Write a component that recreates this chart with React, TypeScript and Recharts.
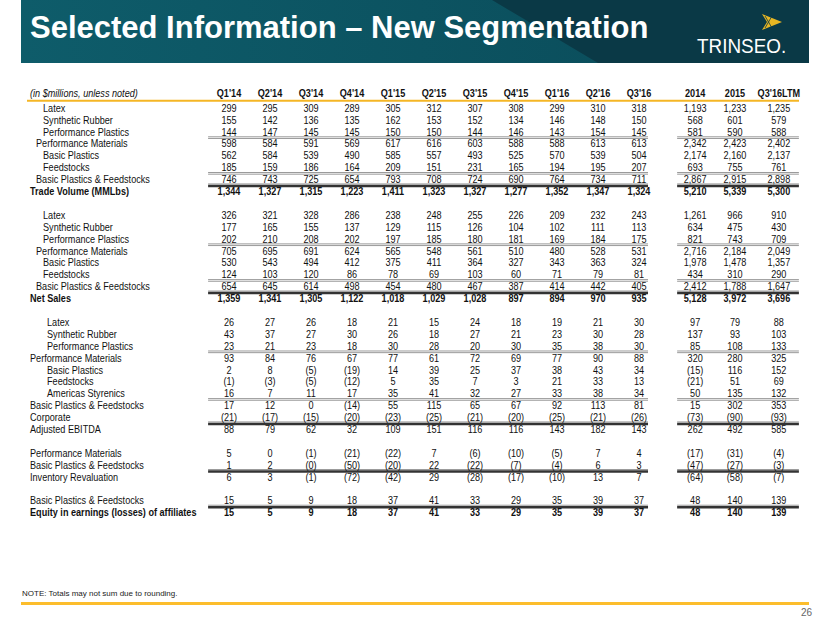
import { ScatterChart, Scatter, XAxis, YAxis, ReferenceLine } from "recharts";

// column headings
const periods = ["Q1'14", "Q2'14", "Q3'14", "Q4'14", "Q1'15", "Q2'15", "Q3'15", "Q4'15", "Q1'16", "Q2'16", "Q3'16", "2014", "2015", "Q3'16LTM"];

// trade volume (MMLbs)
const volLatex = [299, 295, 309, 289, 305, 312, 307, 308, 299, 310, 318, 1193, 1233, 1235];
const volRubber = [155, 142, 136, 135, 162, 153, 152, 134, 146, 148, 150, 568, 601, 579];
const volPlastics = [144, 147, 145, 145, 150, 150, 144, 146, 143, 154, 145, 581, 590, 588];
const volMaterials = [598, 584, 591, 569, 617, 616, 603, 588, 588, 613, 613, 2342, 2423, 2402];
const volBasic = [562, 584, 539, 490, 585, 557, 493, 525, 570, 539, 504, 2174, 2160, 2137];
const volFeed = [185, 159, 186, 164, 209, 151, 231, 165, 194, 195, 207, 693, 755, 761];
const volBasicFeed = [746, 743, 725, 654, 793, 708, 724, 690, 764, 734, 711, 2867, 2915, 2898];
const volTotal = [1344, 1327, 1315, 1223, 1411, 1323, 1327, 1277, 1352, 1347, 1324, 5210, 5339, 5300];

// net sales
const salesLatex = [326, 321, 328, 286, 238, 248, 255, 226, 209, 232, 243, 1261, 966, 910];
const salesRubber = [177, 165, 155, 137, 129, 115, 126, 104, 102, 111, 113, 634, 475, 430];
const salesPlastics = [202, 210, 208, 202, 197, 185, 180, 181, 169, 184, 175, 821, 743, 709];
const salesMaterials = [705, 695, 691, 624, 565, 548, 561, 510, 480, 528, 531, 2716, 2184, 2049];
const salesBasic = [530, 543, 494, 412, 375, 411, 364, 327, 343, 363, 324, 1978, 1478, 1357];
const salesFeed = [124, 103, 120, 86, 78, 69, 103, 60, 71, 79, 81, 434, 310, 290];
const salesBasicFeed = [654, 645, 614, 498, 454, 480, 467, 387, 414, 442, 405, 2412, 1788, 1647];
const salesTotal = [1359, 1341, 1305, 1122, 1018, 1029, 1028, 897, 894, 970, 935, 5128, 3972, 3696];

// adjusted EBITDA
const ebLatex = [26, 27, 26, 18, 21, 15, 24, 18, 19, 21, 30, 97, 79, 88];
const ebRubber = [43, 37, 27, 30, 26, 18, 27, 21, 23, 30, 28, 137, 93, 103];
const ebPlastics = [23, 21, 23, 18, 30, 28, 20, 30, 35, 38, 30, 85, 108, 133];
const ebMaterials = [93, 84, 76, 67, 77, 61, 72, 69, 77, 90, 88, 320, 280, 325];
const ebBasic = [2, 8, -5, -19, 14, 39, 25, 37, 38, 43, 34, -15, 116, 152];
const ebFeed = [-1, -3, -5, -12, 5, 35, 7, 3, 21, 33, 13, -21, 51, 69];
const ebStyrenics = [16, 7, 11, 17, 35, 41, 32, 27, 33, 38, 34, 50, 135, 132];
const ebBasicFeed = [17, 12, 0, -14, 55, 115, 65, 67, 92, 113, 81, 15, 302, 353];
const ebCorporate = [-21, -17, -15, -20, -23, -25, -21, -20, -25, -21, -26, -73, -90, -93];
const ebTotal = [88, 79, 62, 32, 109, 151, 116, 116, 143, 182, 143, 262, 492, 585];

// inventory revaluation
const invMaterials = [5, 0, -1, -21, -22, 7, -6, -10, -5, 7, 4, -17, -31, -4];
const invBasicFeed = [1, 2, -0, -50, -20, 22, -22, -7, -4, 6, 3, -47, -27, -3];
const invTotal = [6, 3, -1, -72, -42, 29, -28, -17, -10, 13, 7, -64, -58, -7];

// equity affiliates
const eqBasicFeed = [15, 5, 9, 18, 37, 41, 33, 29, 35, 39, 37, 48, 140, 139];
const eqTotal = [15, 5, 9, 18, 37, 41, 33, 29, 35, 39, 37, 48, 140, 139];

type Row = { label: string; values?: number[]; indent?: number; bold?: boolean };

const rows: Row[] = [
  { label: "Latex", values: volLatex, indent: 2 },
  { label: "Synthetic Rubber", values: volRubber, indent: 2 },
  { label: "Performance Plastics", values: volPlastics, indent: 2 },
  { label: "Performance Materials", values: volMaterials, indent: 1 },
  { label: "Basic Plastics", values: volBasic, indent: 2 },
  { label: "Feedstocks", values: volFeed, indent: 2 },
  { label: "Basic Plastics & Feedstocks", values: volBasicFeed, indent: 1 },
  { label: "Trade Volume (MMLbs)", values: volTotal, indent: 0, bold: true },
  { label: "" },
  { label: "Latex", values: salesLatex, indent: 2 },
  { label: "Synthetic Rubber", values: salesRubber, indent: 2 },
  { label: "Performance Plastics", values: salesPlastics, indent: 2 },
  { label: "Performance Materials", values: salesMaterials, indent: 1 },
  { label: "Basic Plastics", values: salesBasic, indent: 2 },
  { label: "Feedstocks", values: salesFeed, indent: 2 },
  { label: "Basic Plastics & Feedstocks", values: salesBasicFeed, indent: 1 },
  { label: "Net Sales", values: salesTotal, indent: 0, bold: true },
  { label: "" },
  { label: "Latex", values: ebLatex, indent: 3 },
  { label: "Synthetic Rubber", values: ebRubber, indent: 3 },
  { label: "Performance Plastics", values: ebPlastics, indent: 3 },
  { label: "Performance Materials", values: ebMaterials, indent: 0 },
  { label: "Basic Plastics", values: ebBasic, indent: 3 },
  { label: "Feedstocks", values: ebFeed, indent: 3 },
  { label: "Americas Styrenics", values: ebStyrenics, indent: 3 },
  { label: "Basic Plastics & Feedstocks", values: ebBasicFeed, indent: 0 },
  { label: "Corporate", values: ebCorporate, indent: 0 },
  { label: "Adjusted EBITDA", values: ebTotal, indent: 0 },
  { label: "" },
  { label: "Performance Materials", values: invMaterials, indent: 0 },
  { label: "Basic Plastics & Feedstocks", values: invBasicFeed, indent: 0 },
  { label: "Inventory Revaluation", values: invTotal, indent: 0 },
  { label: "" },
  { label: "Basic Plastics & Feedstocks", values: eqBasicFeed, indent: 0 },
  { label: "Equity in earnings (losses) of affiliates", values: eqTotal, indent: 0, bold: true },
];

// rules drawn above these rows
const thinRules = [3, 6, 12, 15, 21, 25];
const thickRules = [7, 16, 27, 31, 34];

const W = 830;
const H = 623;
const X0 = 229; // first quarter column centre, px
const DX = 41; // column pitch, px
const Y0 = 108; // first body row centre, px
const DY = 11.9; // row pitch, px

const colX = [0, 1, 2, 3, 4, 5, 6, 7, 8, 9, 10, 11.37, 12.34, 13.41];
const indentX = [30, 36, 43, 47].map((px) => (px - X0) / DX);

const FONT = '"Liberation Sans", Arial, sans-serif';
const SQUEEZE = 0.86; // stand-in for Arial Narrow

function fmt(v: number) {
  const neg = v < 0 || Object.is(v, -0);
  const s = Math.abs(v).toLocaleString("en-US");
  return neg ? `(${s})` : s;
}

type Cell = { x: number; y: number; text: string; bold?: boolean; italic?: boolean; anchor: string };

const cells: Cell[] = [];
cells.push({ x: indentX[0], y: -1.2, text: "(in $millions, unless noted)", italic: true, anchor: "start" });
periods.forEach((p, i) => cells.push({ x: colX[i], y: -1.2, text: p, bold: true, anchor: "middle" }));
rows.forEach((r, k) => {
  if (!r.values) return;
  cells.push({ x: indentX[r.indent ?? 0], y: k, text: r.label, bold: r.bold, anchor: "start" });
  r.values.forEach((v, i) => cells.push({ x: colX[i], y: k, text: fmt(v), bold: r.bold, anchor: "middle" }));
});

function renderCell(props: any) {
  const { cx, cy, payload } = props;
  return (
    <text
      transform={`translate(${cx} ${cy}) scale(${SQUEEZE} 1)`}
      x={0}
      y={0}
      textAnchor={payload.anchor}
      dominantBaseline="central"
      fontFamily={FONT}
      fontSize={10.6}
      fontWeight={payload.bold ? 700 : 400}
      fontStyle={payload.italic ? "italic" : "normal"}
      fill="#111"
    >
      {payload.text}
    </text>
  );
}

const quarterSpan = [-0.51, 10.22];
const yearSpan = [10.93, 13.9];

function rule(k: number, dy: number, stroke: string, width: number, key: string) {
  return [quarterSpan, yearSpan].map(([a, b], j) => (
    <ReferenceLine
      key={`${key}-${j}`}
      segment={[{ x: a, y: k + dy }, { x: b, y: k + dy }]}
      stroke={stroke}
      strokeWidth={width}
      ifOverflow="visible"
    />
  ));
}

function Header() {
  return (
    <svg width={W} height={70} style={{ position: "absolute", left: 0, top: 0 }}>
      <defs>
        <linearGradient id="bandL" x1="0" x2="1" y1="0" y2="0">
          <stop offset="0" stopColor="#0e5c6a" />
          <stop offset="1" stopColor="#0b4f5d" />
        </linearGradient>
      </defs>
      <rect x={21} y={0} width={788} height={63} fill="#0a3946" />
      <polygon points="21,0 492,0 598,63 21,63" fill="url(#bandL)" />
      <text x={30} y={38} fill="#fff" fontFamily={FONT} fontWeight={700} fontSize={31}>
        Selected Information – New Segmentation
      </text>
      <polygon points="762,14 782,22 762,30 767,22" fill="#e7b623" />
      <line x1={765} y1={16} x2={772} y2={28} stroke="#0a3946" strokeWidth={0.8} />
      <line x1={765} y1={28} x2={772} y2={16} stroke="#0a3946" strokeWidth={0.8} />
      <text transform="translate(697 53) scale(0.9 1)" fill="#fff" fontFamily={FONT} fontSize={21}>
        TRINSEO.
      </text>
    </svg>
  );
}

export default function App() {
  return (
    <div style={{ position: "absolute", left: 0, top: 0, width: W, height: H, background: "#fff", overflow: "hidden" }}>
      <Header />
      <div style={{ position: "absolute", left: 0, top: 0 }}>
        <ScatterChart width={W} height={H} margin={{ top: 0, right: 0, bottom: 0, left: 0 }}>
          <XAxis type="number" dataKey="x" hide domain={[-X0 / DX, (W - X0) / DX]} allowDataOverflow />
          <YAxis type="number" dataKey="y" hide reversed domain={[-Y0 / DY, (H - Y0) / DY]} allowDataOverflow />
          <ReferenceLine
            segment={[{ x: (27 - X0) / DX, y: -0.6 }, { x: (799 - X0) / DX, y: -0.6 }]}
            stroke="#f5b625"
            strokeWidth={2}
            ifOverflow="visible"
          />
          {thinRules.flatMap((k) => [
            ...rule(k, -0.58, "#9a9a9a", 1, `t${k}`),
            ...rule(k, -0.44, "#9a9a9a", 1, `u${k}`),
          ])}
          {thickRules.flatMap((k) => [
            ...rule(k, -0.62, "#9a9a9a", 1, `g${k}`),
            ...rule(k, -0.45, "#333", 2.5, `b${k}`),
          ])}
          <Scatter data={cells} shape={renderCell} isAnimationActive={false} />
        </ScatterChart>
      </div>
      <div style={{ position: "absolute", left: 22, top: 589, fontFamily: FONT, fontSize: 8, color: "#222" }}>
        NOTE: Totals may not sum due to rounding.
      </div>
      <div style={{ position: "absolute", left: 21, top: 602, width: 788, height: 3, background: "#fcbd2c" }} />
      <div style={{ position: "absolute", right: 18, top: 607, fontFamily: FONT, fontSize: 10, color: "#666" }}>
        26
      </div>
    </div>
  );
}
